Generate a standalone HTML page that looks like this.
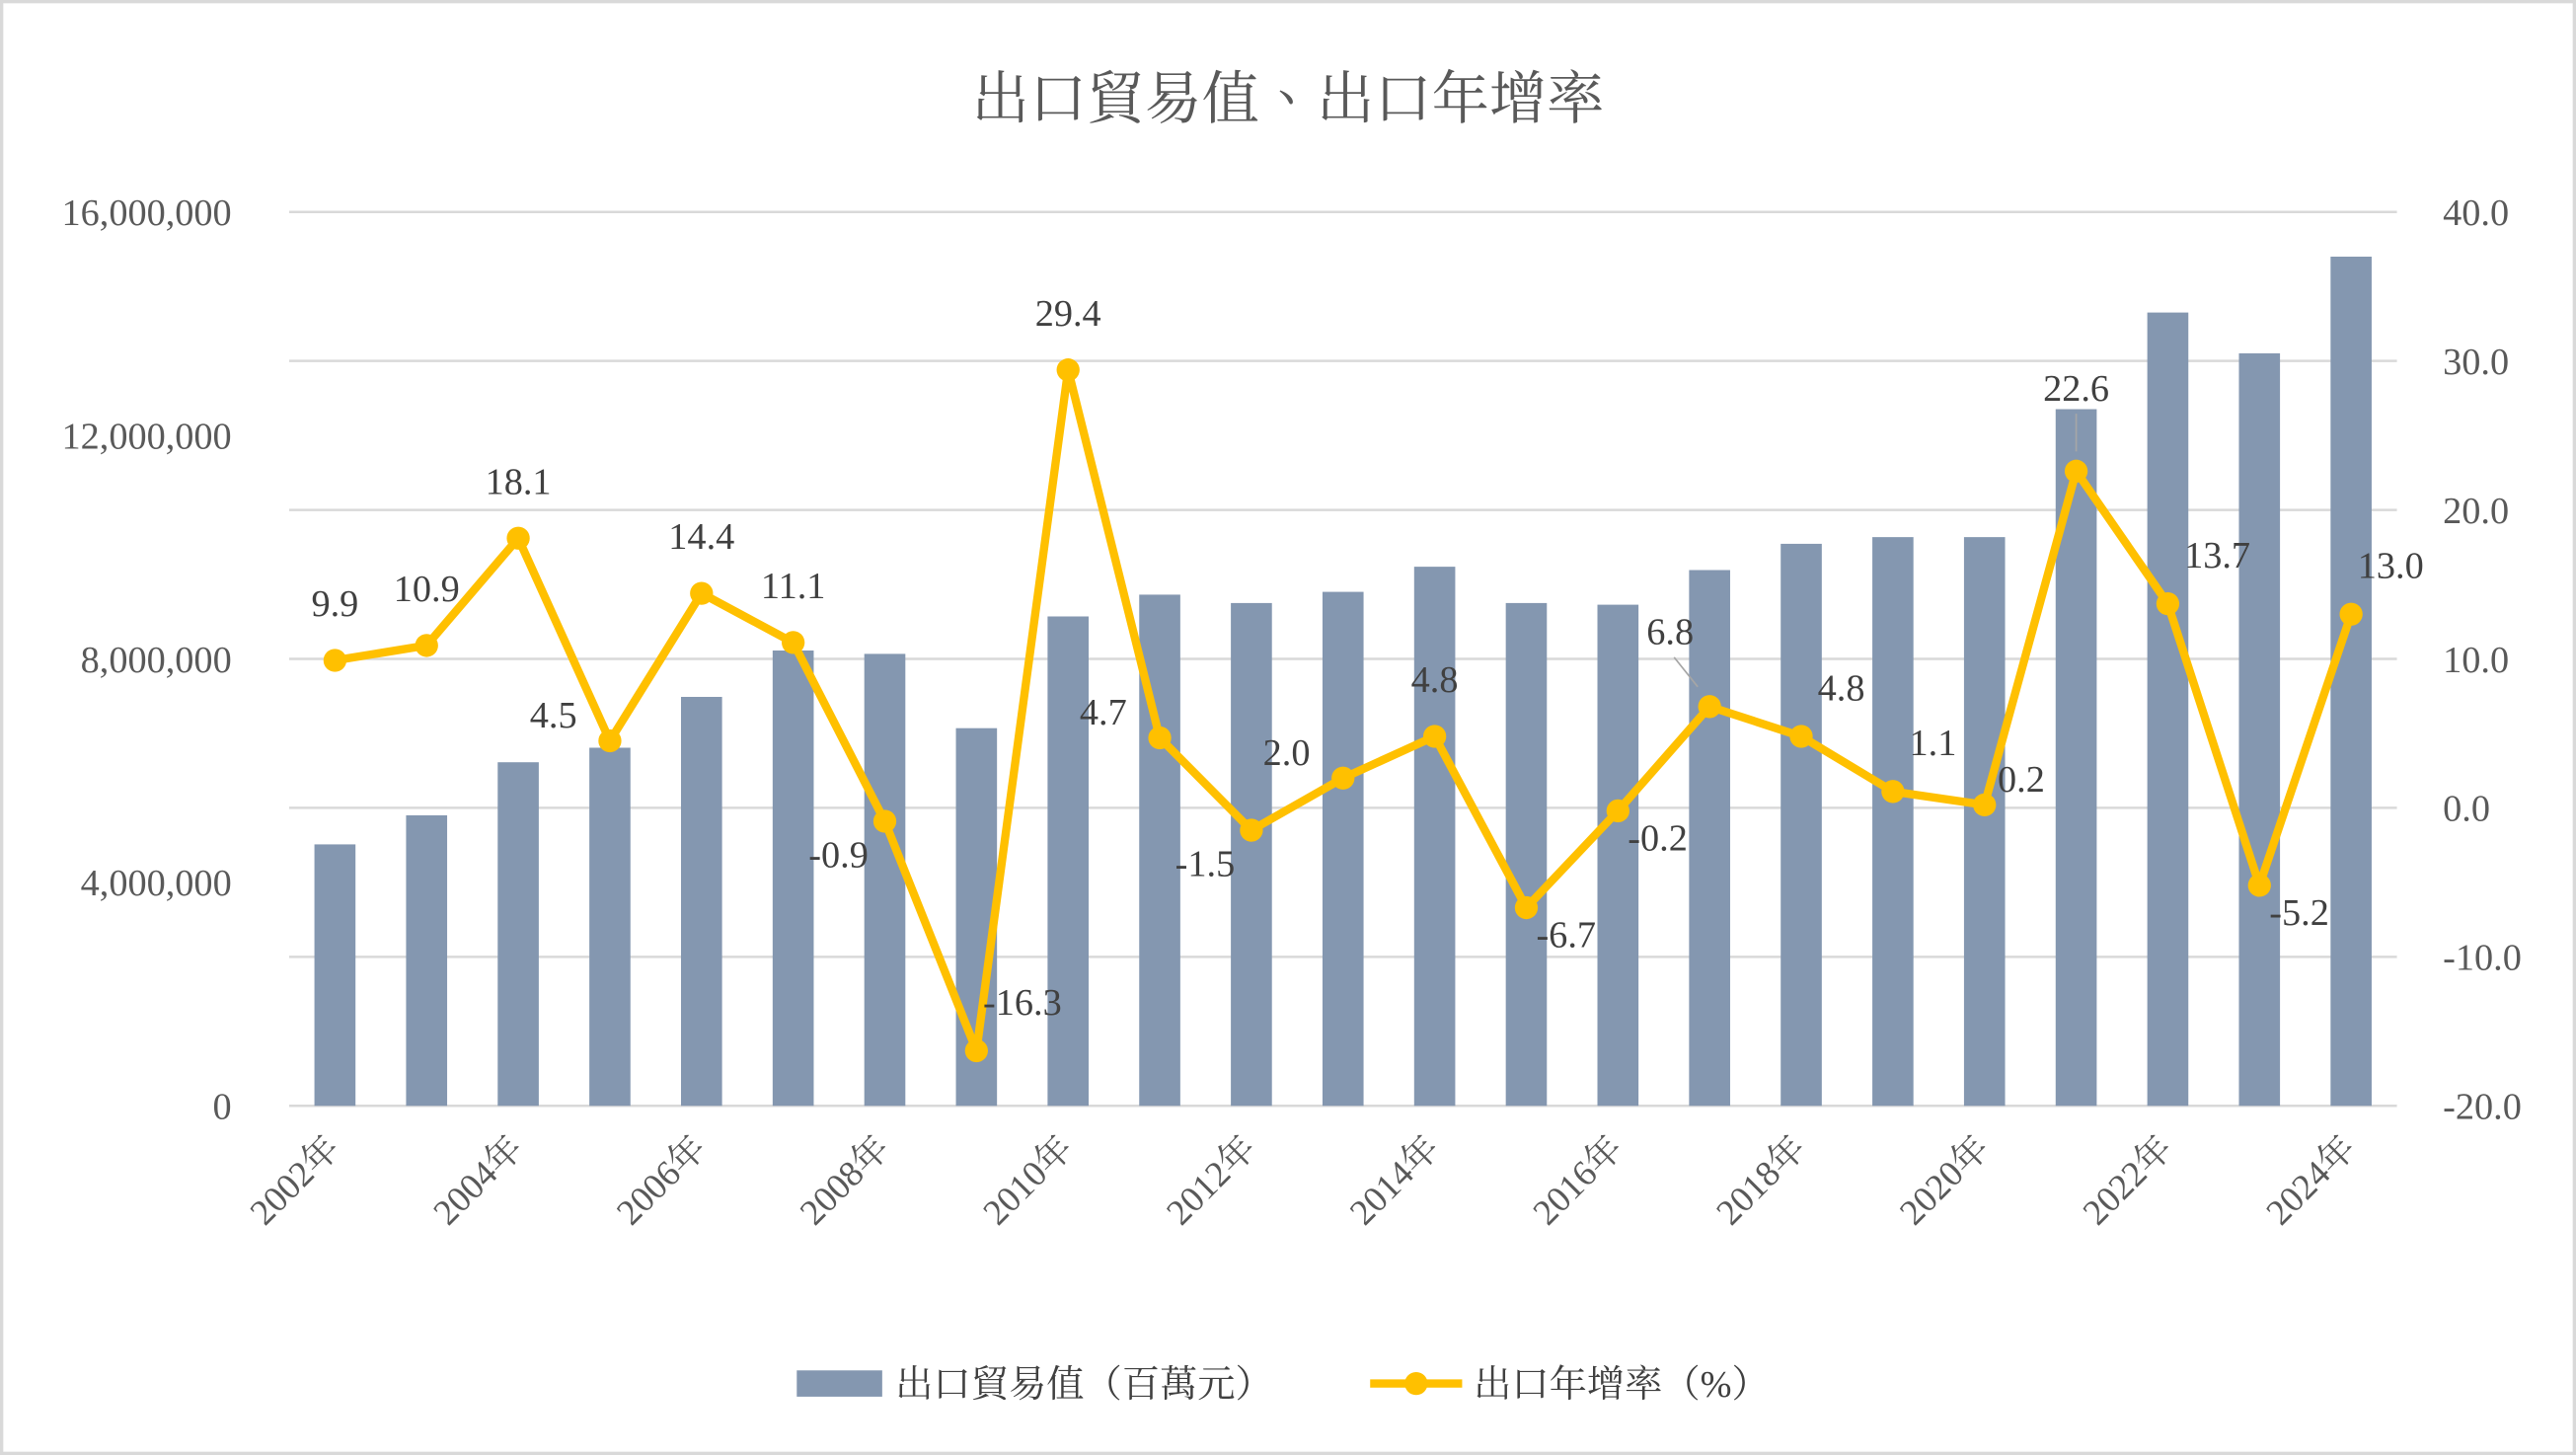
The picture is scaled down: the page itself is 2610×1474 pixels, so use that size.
<!DOCTYPE html>
<html><head><meta charset="utf-8"><style>
html,body{margin:0;padding:0;background:#fff}
svg{display:block}
text{font-family:"Liberation Serif","Noto Serif CJK TC","Noto Serif CJK SC",serif}
</style></head><body>
<svg id="chart" width="2610" height="1474" viewBox="0 0 1568 885.5" preserveAspectRatio="none" xmlns="http://www.w3.org/2000/svg">
<rect x="1" y="1" width="1566" height="883.5" fill="#fff" stroke="#d9d9d9" stroke-width="2"/>
<text x="784" y="72" text-anchor="middle" font-size="35" fill="#595959">出口貿易值、出口年增率</text>
<g id="grid"></g><g id="bars"></g><g id="line"></g><g id="labels"></g><g id="axes"></g>
<g>
<rect x="485" y="834" width="52" height="16" fill="#8497B0"/>
<text x="545" y="850" font-size="23" fill="#404040">出口貿易值（百萬元）</text>
<line x1="834" y1="842" x2="890" y2="842" stroke="#FFC000" stroke-width="5"/>
<circle cx="862" cy="842" r="7" fill="#FFC000"/>
<text x="897" y="850" font-size="23" fill="#404040">出口年增率（%）</text>
</g>
</svg>
<script>
const years=[2002,2003,2004,2005,2006,2007,2008,2009,2010,2011,2012,2013,2014,2015,2016,2017,2018,2019,2020,2021,2022,2023,2024];
const exportValues=[4680000,5200000,6150000,6410000,7320000,8150000,8090000,6760000,8760000,9150000,9000000,9200000,9650000,9000000,8970000,9590000,10060000,10180000,10180000,12470000,14200000,13470000,15200000];
const growthRates=[9.9,10.9,18.1,4.5,14.4,11.1,-0.9,-16.3,29.4,4.7,-1.5,2.0,4.8,-6.7,-0.2,6.8,4.8,1.1,0.2,22.6,13.7,-5.2,13.0];
const labelPlacement=['a','a','a','la','a','a','lb','ra','a','la','lb','la','a','rb','rb','lf','ar','ar','r','af','ar','rb','ra'];
const leftTicks=[0,4000000,8000000,12000000,16000000];
const rightTicks=[-20,-10,0,10,20,30,40];
const NS='http://www.w3.org/2000/svg';
const X0=176,X1=1459,YT=129,YB=673;
const step=(X1-X0)/years.length;
const xs=i=>X0+step*(i+0.5);
const yL=v=>YB-(v/16000000)*(YB-YT);
const yR=v=>YB-((v+20)/60)*(YB-YT);
function mk(tag,attrs,parent){const e=document.createElementNS(NS,tag);for(const k in attrs)e.setAttribute(k,attrs[k]);parent.appendChild(e);return e;}
const grid=document.getElementById('grid'),bars=document.getElementById('bars'),line=document.getElementById('line'),labels=document.getElementById('labels'),axes=document.getElementById('axes');
rightTicks.forEach(t=>{const g=mk('line',{x1:X0,x2:X1,y1:yR(t),y2:yR(t),stroke:'#d9d9d9','stroke-width':1.5},grid);


const tx=mk('text',{x:1487,y:yR(t)+8,'font-size':23,fill:'#595959'},axes);tx.textContent=t.toFixed(1);

});
leftTicks.forEach(t=>{const tx=mk('text',{x:141,y:yL(t)+8,'font-size':23,fill:'#595959','text-anchor':'end'},axes);tx.textContent=t.toLocaleString('en-US');

});
exportValues.forEach((v,i)=>{const b=mk('rect',{x:xs(i)-12.5,y:yL(v),width:25,height:YB-yL(v),fill:'#8497B0'},bars);

});
const pts=growthRates.map((v,i)=>xs(i)+','+yR(v)).join(' ');
const pl=mk('polyline',{points:pts,fill:'none',stroke:'#FFC000','stroke-width':5,'stroke-linejoin':'round'},line);


const off={a:[0,-27,'middle'],la:[-20,-8,'end'],lb:[-10,28,'end'],ra:[4,-22,'start'],rb:[6,24,'start'],r:[8,-8,'start'],ar:[10,-22,'start'],lf:[-24,-38,'middle'],af:[0,-43,'middle']};
growthRates.forEach((v,i)=>{const cx=xs(i),cy=yR(v);
const c=mk('circle',{cx:cx,cy:cy,r:7,fill:'#FFC000'},line);


const o=off[labelPlacement[i]];
if(labelPlacement[i]==='lf'||labelPlacement[i]==='af'){const l=mk('line',{x1:cx+o[0]*0.3,y1:cy-12,x2:cx+o[0]*0.9,y2:cy+o[1]+8,stroke:'#a6a6a6','stroke-width':1},labels);

}
const t=mk('text',{x:cx+o[0],y:cy+o[1],'font-size':23,fill:'#404040','text-anchor':o[2]},labels);t.textContent=v.toFixed(1);

});
years.forEach((y,i)=>{if(i%2)return;const x=xs(i)+4,yy=700;
const t=mk('text',{x:x,y:yy,'font-size':22,fill:'#595959','text-anchor':'end',transform:'rotate(-45 '+x+' '+yy+')'},axes);t.textContent=y+'年';

});
</script>
</body></html>
